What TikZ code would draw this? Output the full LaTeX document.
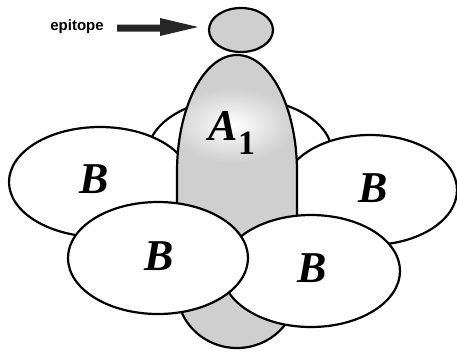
\documentclass[tikz,border=0pt]{standalone}
\usepackage{fontspec}
\setmainfont{Liberation Serif}
\newfontfamily\epifont{Liberation Sans}
\begin{document}
\begin{tikzpicture}[x=1pt,y=-1pt,
  outl/.style={draw=black,line width=2.2pt},
  bell/.style={outl,fill=white},
  stip/.style={fill=gray!38},
  lab/.style={font=\fontsize{44}{48}\selectfont\bfseries\itshape,inner sep=0pt}]
\useasboundingbox (0,0) rectangle (457,354);
% back ellipse (only its bumps show)
\draw[bell] (240,153) ellipse[x radius=92,y radius=55];
% upper B ellipses
\draw[bell] (100,182) ellipse[x radius=91,y radius=55];
\draw[bell] (370,190) ellipse[x radius=87,y radius=55];
% stalk A1
\path[stip] (177,172) arc[start angle=180,end angle=360,x radius=60,y radius=117]
  -- (297,290) arc[start angle=0,end angle=180,x radius=60,y radius=58] -- cycle;
\begin{scope}
\clip (177,172) arc[start angle=180,end angle=360,x radius=60,y radius=117]
  -- (297,290) arc[start angle=0,end angle=180,x radius=60,y radius=58] -- cycle;
\shade[inner color=white,outer color=gray!38] (232,125) ellipse[x radius=62,y radius=38];
\end{scope}
\draw[outl] (177,172) arc[start angle=180,end angle=360,x radius=60,y radius=117]
  -- (297,290) arc[start angle=0,end angle=180,x radius=60,y radius=58] -- cycle;
% lower B ellipses
\draw[bell] (311,271) ellipse[x radius=89,y radius=56];
\draw[bell] (158,258) ellipse[x radius=90,y radius=56];
% epitope
\draw[outl,stip] (241,30) ellipse[x radius=32,y radius=22];
% labels
\node[lab] (a1) at (232,133) {A\raisebox{-0.32em}{\fontsize{34}{36}\selectfont\upshape 1}};
\node[lab] (b1) at (94,179) {B};
\node[lab] (b2) at (373,188) {B};
\node[lab] (b3) at (159,256) {B};
\node[lab] (b4) at (312,268) {B};
\node[font=\epifont\fontsize{15}{17}\selectfont\bfseries,inner sep=0pt] (epi) at (77,27) {epitope};
% arrow
\coordinate (tail) at (117,28);
\coordinate (tip) at (198,27);
\fill[black!85] (tail) ++(0,-3.5) -- (160,24.5) -- (160,18) -- (tip) -- (160,36) -- (160,31.5) -- (117,31.5) -- cycle;
\end{tikzpicture}
\end{document}
